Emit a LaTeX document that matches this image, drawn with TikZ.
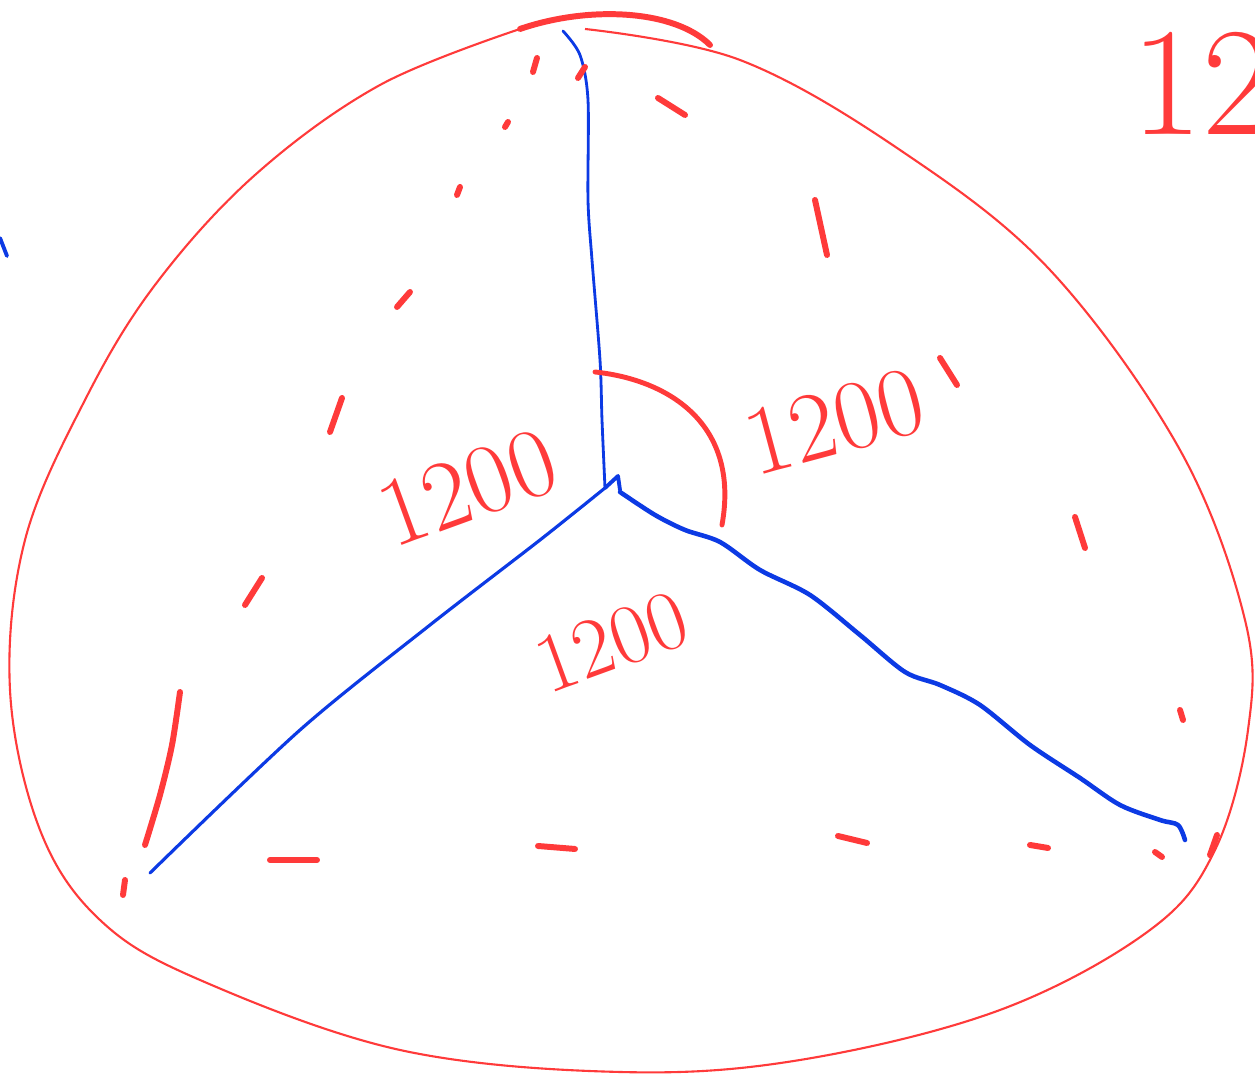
\documentclass[tikz,border=0pt]{standalone}
\usepackage{tikz}
\usetikzlibrary{positioning,calc}
\definecolor{penred}{RGB}{255,58,58}
\definecolor{penblue}{RGB}{12,58,228}
\tikzset{
  every picture/.style={line width=0.6pt},
  rim/.style={penred,line width=0.6pt},
  tick/.style={penred,line width=1.7pt,line cap=round},
  ray/.style={penblue,line cap=round,line join=round},
  lbl/.style={penred,font=\fontsize{28}{28}\selectfont,inner sep=0pt},
}
\newcommand{\tk}[4]{\draw[tick] (#1,#2)--(#3,#4);}
\begin{document}
\begin{tikzpicture}[x=1cm,y=-1cm]
\useasboundingbox (0,0) rectangle (12.55,10.81);
\clip (0,0) rectangle (12.55,10.81);
% outer rim
\draw[rim] plot[smooth,tension=0.6] coordinates {(5.85,0.29) (7.40,0.60) (9.00,1.50) (10.50,2.70)
  (11.80,4.50) (12.45,6.20) (12.48,7.30) (12.15,8.50) (11.50,9.30) (10.00,10.10) (8.00,10.60)
  (6.20,10.72) (4.00,10.50) (2.00,9.80) (1.00,9.20) (0.40,8.30) (0.10,6.90) (0.25,5.40)
  (0.85,4.00) (1.55,2.85) (2.55,1.75) (3.80,0.85) (5.20,0.29)};
\draw[tick] (5.20,0.29) .. controls (5.90,0.05) and (6.75,0.10) .. (7.10,0.45);
% centre and ends
\coordinate (O) at (6.05,4.88);
\coordinate (A) at (5.63,0.31);
\coordinate (B) at (1.50,8.73);
\coordinate (C) at (11.85,8.40);
\draw[ray,line width=0.8pt] plot[smooth,tension=0.5] coordinates {(O) (6.02,4.20) (6.00,3.60)
  (5.92,2.60) (5.88,2.00) (5.88,1.00) (5.80,0.55) (A)};
\draw[ray,line width=1.1pt] (O) -- (6.18,4.76) -- (6.20,4.90);
\draw[ray,line width=0.9pt] plot[smooth,tension=0.5] coordinates {(O) (5.40,5.40) (4.30,6.25)
  (3.00,7.30) (B)};
\draw[ray,line width=1.3pt] plot[smooth,tension=0.5] coordinates {(6.20,4.92) (6.55,5.15)
  (6.85,5.30) (7.20,5.42) (7.60,5.70) (8.10,5.95) (8.60,6.35) (9.05,6.72) (9.40,6.85)
  (9.80,7.05) (10.30,7.45) (10.80,7.78) (11.20,8.05) (11.60,8.20) (11.78,8.25) (C)};
% angle arc
\draw[tick,line width=1.4pt] (5.95,3.72) .. controls (6.70,3.80) and (7.40,4.25) .. (7.22,5.25);
% dashed triangle, left side
\tk{5.37}{0.58}{5.33}{0.72} \tk{5.85}{0.67}{5.78}{0.78}
\tk{5.08}{1.22}{5.05}{1.27} \tk{4.60}{1.87}{4.57}{1.95}
\tk{4.10}{2.92}{3.97}{3.07} \tk{3.42}{3.98}{3.30}{4.32}
\tk{2.62}{5.78}{2.45}{6.05}
\draw[tick] plot[smooth] coordinates {(1.80,6.92) (1.72,7.45) (1.60,7.95) (1.45,8.45)};
\tk{1.25}{8.80}{1.23}{8.95}
% right side
\tk{6.58}{0.98}{6.85}{1.15} \tk{8.15}{2.00}{8.27}{2.55}
\tk{9.40}{3.58}{9.57}{3.85} \tk{10.75}{5.17}{10.85}{5.48}
\tk{11.80}{7.10}{11.83}{7.20} \tk{12.17}{8.35}{12.10}{8.55}
% bottom side
\tk{2.70}{8.60}{3.17}{8.60} \tk{5.38}{8.46}{5.75}{8.49}
\tk{8.38}{8.36}{8.67}{8.43} \tk{10.30}{8.45}{10.48}{8.48}
\tk{11.55}{8.52}{11.62}{8.57}
% stray blue stroke
\draw[ray,line width=1.1pt] (0.00,2.38) -- (0.07,2.56);
% labels
\node[lbl,rotate=20] (L1) at (4.68,4.88) {1200};
\node[lbl,rotate=15] (L2) at (8.35,4.22) {1200};
\node[lbl,rotate=20,font=\fontsize{24}{24}\selectfont] (L3) at (6.12,6.42) {1200};
\node[lbl,anchor=west,font=\fontsize{44}{44}\selectfont] (L4) at (11.30,0.85) {120};
\end{tikzpicture}
\end{document}
